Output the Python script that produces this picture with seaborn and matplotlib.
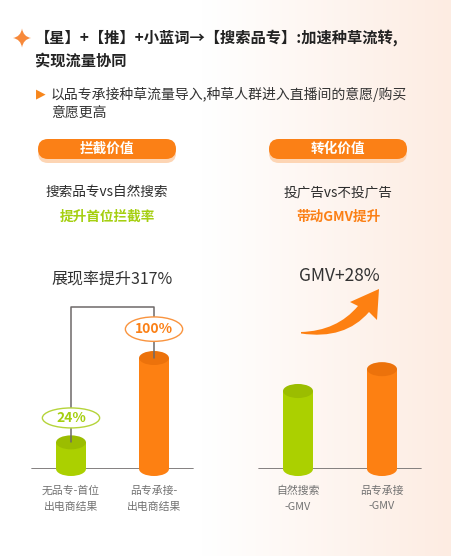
import numpy as np
import pandas as pd
import matplotlib
matplotlib.use("Agg")
import matplotlib.pyplot as plt
import seaborn as sns
from matplotlib.patches import Ellipse, FancyBboxPatch, PathPatch
from matplotlib.path import Path
from matplotlib.colors import LinearSegmentedColormap

# data
left_labels = ["无品专-首位\n出电商结果", "品专承接-\n出电商结果"]
left_values = [24, 100]
left_texts = ["24%", "100%"]
right_labels = ["自然搜索\n-GMV", "品专承接\n-GMV"]
right_values = [100, 128]

ORANGE = "#fd8012"
ORANGE_TOP = "#ec720b"
GREEN = "#abd000"
GREEN_TOP = "#9bbd00"
GRAY = "#7a7676"
TEXT = "#2b2b2b"

sns.set_theme(style="white")
plt.rcParams["font.family"] = ["Noto Sans CJK SC", "DejaVu Sans"]

W, H = 452, 556
fig = plt.figure(figsize=(W / 100, H / 100), dpi=100)

# background layer in pixel coords
bg = fig.add_axes([0, 0, 1, 1])
bg.set_xlim(0, W)
bg.set_ylim(H, 0)
bg.axis("off")
cmap = LinearSegmentedColormap.from_list(
    "bg", [(0, "#ffffff"), (0.45, "#ffffff"), (1, "#fdece2")])
grad = np.linspace(0, 1, 256).reshape(1, -1)
bg.imshow(grad, cmap=cmap, extent=[0, W, H, 0], aspect="auto", zorder=0)

# header star
star = [(22, 28.5), (23.3, 36.7), (31, 38), (23.3, 39.3), (22, 47.5),
        (20.7, 39.3), (13, 38), (20.7, 36.7), (22, 28.5), (22, 28.5)]
star_codes = [Path.MOVETO] + [Path.CURVE3] * 8 + [Path.CLOSEPOLY]
bg.add_patch(PathPatch(Path(star, star_codes), fc="#f7893a", ec="none",
                       zorder=3))

bg.text(35, 38, "【星】+【推】+小蓝词→【搜索品专】:加速种草流转,", fontsize=11,
        weight="bold", va="center", color="#222222")
bg.text(35, 61, "实现流量协同", fontsize=11, weight="bold", va="center",
        color="#222222")
bg.text(41, 94, "▶", color="#f7861c", fontsize=9, ha="center", va="center",
        family="DejaVu Sans")
bg.text(51, 94, "以品专承接种草流量导入,种草人群进入直播间的意愿/购买",
        fontsize=10, va="center", color="#333333")
bg.text(51, 113, "意愿更高", fontsize=10, va="center", color="#333333")


def pill(cx, label):
    x0, y0, w, h = cx - 69, 139, 138, 20
    bg.add_patch(FancyBboxPatch((x0, y0 + 4), w, h,
                                boxstyle="round,pad=0,rounding_size=10",
                                fc="#fdd5b4", ec="none", zorder=2))
    bg.add_patch(FancyBboxPatch((x0, y0), w, h,
                                boxstyle="round,pad=0,rounding_size=10",
                                fc="#fb8016", ec="none", zorder=3))
    bg.text(cx, y0 + h / 2, label, color="white", fontsize=9.8,
            weight="bold", ha="center", va="center", zorder=4)


pill(107, "拦截价值")
pill(338, "转化价值")

bg.text(107, 192, "搜索品专vs自然搜索", fontsize=9.8, ha="center", va="center",
        color=TEXT)
bg.text(107, 217, "提升首位拦截率", fontsize=9.8, weight="bold", ha="center",
        va="center", color="#a5cf10")
bg.text(338, 192, "投广告vs不投广告", fontsize=9.8, ha="center", va="center",
        color=TEXT)
bg.text(338, 217, "带动GMV提升", fontsize=9.8, weight="bold", ha="center",
        va="center", color="#fb8016")

bg.text(112, 280, "展现率提升317%", fontsize=11.5, ha="center", va="center",
        color="#333333")
bg.text(339, 276, "GMV+28%", fontsize=12.5, ha="center", va="center",
        color="#333333")

# curved arrow
verts = [(301, 332), (337, 331), (358, 306), (350, 302), (379, 289),
         (377, 320), (369, 312), (345, 340), (301, 333.5), (301, 332)]
codes = [Path.MOVETO, Path.CURVE3, Path.CURVE3, Path.LINETO, Path.LINETO,
         Path.LINETO, Path.LINETO, Path.CURVE3, Path.CURVE3, Path.CLOSEPOLY]
bg.add_patch(PathPatch(Path(verts, codes), fc=ORANGE, ec="none", zorder=3))


def cylinders(ax, tops, cap_h):
    for bar, tc in zip(list(ax.patches), tops):
        cx = bar.get_x() + bar.get_width() / 2
        w = bar.get_width()
        v = bar.get_height()
        ax.add_patch(Ellipse((cx, 0), w, cap_h, fc=bar.get_facecolor(),
                             ec="none", zorder=3, clip_on=False))
        ax.add_patch(Ellipse((cx, v), w, cap_h, fc=tc, ec="none", zorder=4,
                             clip_on=False))


def style(ax, ymax):
    ax.set_ylim(0, ymax)
    ax.set_xlim(-0.5, 1.5)
    ax.set_facecolor("none")
    sns.despine(ax=ax, left=True, bottom=True)
    ax.set_yticks([])
    ax.set_xlabel("")
    ax.set_ylabel("")
    ax.tick_params(axis="x", length=0, pad=12, labelsize=7.8,
                   labelcolor="#727272")
    for t in ax.get_xticklabels():
        t.set_linespacing(1.7)
    ax.axhline(0, xmin=0.015, xmax=0.985, color=GRAY, lw=1.3, zorder=1)


# left chart
axL = fig.add_axes([29.5 / W, (H - 469) / H, 166 / W, 166.5 / H])
dfL = pd.DataFrame({"label": left_labels, "value": left_values})
sns.barplot(data=dfL, x="label", y="value", hue="label", legend=False,
            palette=[GREEN, ORANGE], saturation=1, width=0.36, linewidth=0,
            ax=axL, zorder=3)
style(axL, 150)
cylinders(axL, [GREEN_TOP, ORANGE_TOP], 12.6)

axL.plot([0, 0, 1, 1], [left_values[0], 146, 146, left_values[1]],
         color="#6d6868", lw=1.1, zorder=5, clip_on=False)
for i, (v, txt, ec, tc, eh, off) in enumerate(zip(
        left_values, left_texts, ["#b5d43a", "#f9943f"],
        ["#a5cf10", "#fb8016"], [18, 22], [22, 26])):
    axL.add_patch(Ellipse((i, v + off), 0.69, eh, fc="white", ec=ec, lw=1,
                          zorder=6, clip_on=False))
    axL.text(i, v + off, txt, color=tc, fontsize=10, weight="bold",
             ha="center", va="center", zorder=7)

# right chart
axR = fig.add_axes([256 / W, (H - 469) / H, 168 / W, 156 / H])
dfR = pd.DataFrame({"label": right_labels, "value": right_values})
sns.barplot(data=dfR, x="label", y="value", hue="label", legend=False,
            palette=[GREEN, ORANGE], saturation=1, width=0.357, linewidth=0,
            ax=axR, zorder=3)
style(axR, 200)
cylinders(axR, [GREEN_TOP, ORANGE_TOP], 18)

fig.savefig("out.png", dpi=100)
